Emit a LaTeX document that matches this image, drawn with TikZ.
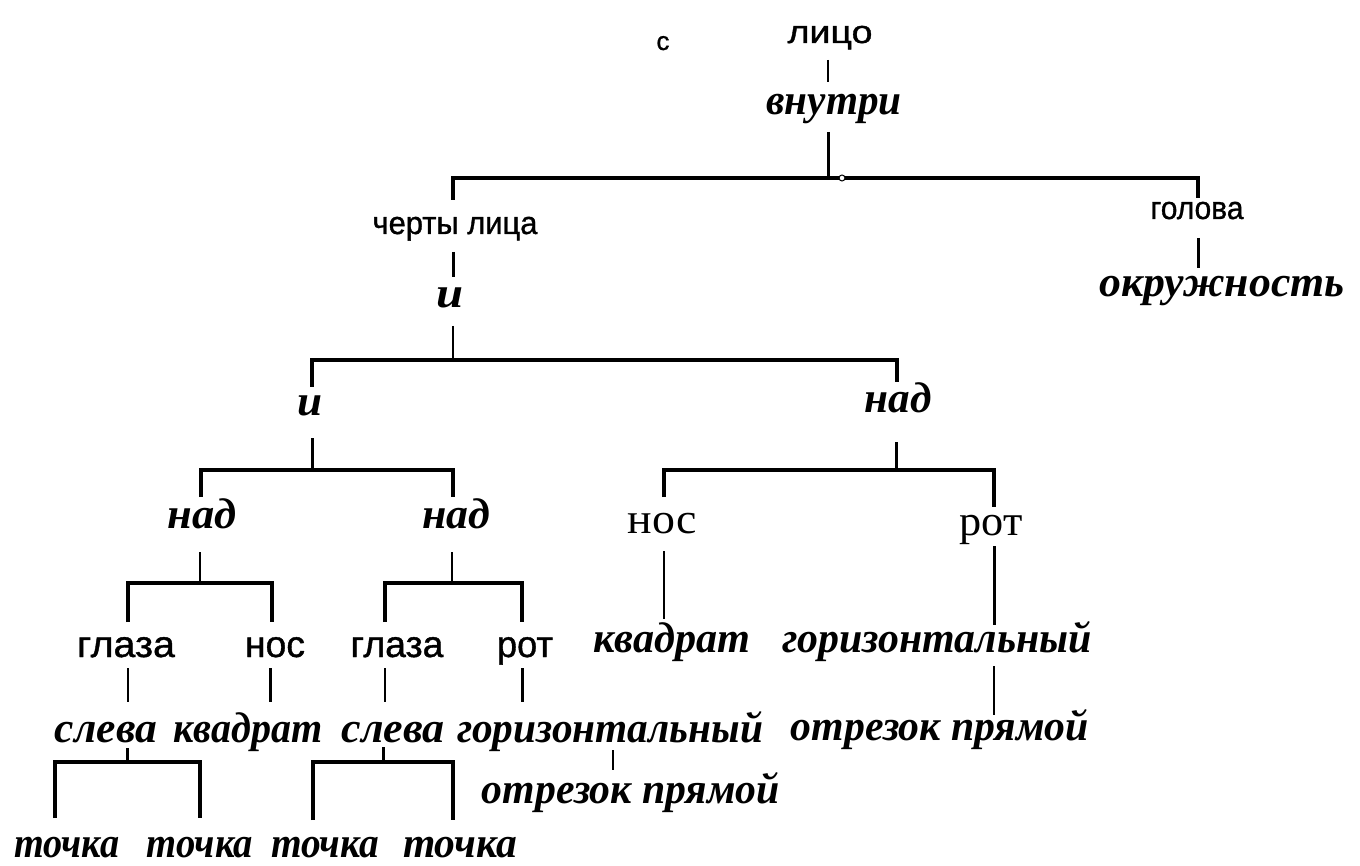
\documentclass[tikz,border=0pt]{standalone}
\usepackage{fontspec}
\usepackage{graphicx}
\newfontfamily\upf{Liberation Sans}[FakeBold=1]
\newfontfamily\serf{Liberation Serif}
\newfontfamily\itf{Liberation Serif}
\newcommand\fitw[2]{\resizebox{#1pt}{\height}{#2}}
\tikzset{
  lab/.style={inner sep=0pt, anchor=base},
  ut/.style={lab, font=\upf\fontsize{32}{35}\selectfont},
  ub/.style={lab, font=\upf\fontsize{37}{40}\selectfont},
  us/.style={lab, font=\serf\fontsize{43}{48}\selectfont},
  itl/.style={lab, font=\itf\bfseries\itshape\fontsize{43}{46}\selectfont},
  barline/.style={line width=4pt, line join=miter},
  stemline/.style={line width=3pt},
  thinline/.style={line width=2pt},
}
\begin{document}
\begin{tikzpicture}[x=1pt,y=-1pt]
\useasboundingbox[fill=white] (0,0) rectangle (1360,866);
% ---------- texts ----------
\node[lab, font=\upf\fontsize{26}{28}\selectfont] (c) at (663,50) {с};
\node[ut] (litso) at (830,43) {\fitw{85}{лицо}};
\node[itl] (vnutri) at (834,115) {\fitw{135}{внутри}};
\node[ut] (cherty) at (455,234) {\fitw{165}{черты лица}};
\node[ut] (golova) at (1197,219) {\fitw{93}{голова}};
\node[itl] (okr) at (1222,297) {\fitw{245}{окружность}};
\node[itl] (i1) at (450,308) {\fitw{27}{и}};
\node[itl] (i2) at (310,416) {\fitw{25}{и}};
\node[itl] (nad1) at (898,412) {\fitw{67}{над}};
\node[itl] (nad2) at (202,528) {\fitw{69}{над}};
\node[itl] (nad3) at (456,528) {\fitw{68}{над}};
\node[us] (nosm) at (662,533) {\fitw{69}{нос}};
\node[us] (rotm) at (991,535) {\fitw{63}{рот}};
\node[ub] (glaza1) at (126,657) {\fitw{98}{глаза}};
\node[ub] (nosl) at (275,657) {\fitw{60}{нос}};
\node[ub] (glaza2) at (397,657) {\fitw{93}{глаза}};
\node[ub] (rotl) at (525,657) {\fitw{56}{рот}};
\node[itl] (kvm) at (672,652) {\fitw{157}{квадрат}};
\node[itl] (gorm) at (937,652) {\fitw{310}{горизонтальный}};
\node[itl] (sl1) at (106,742) {\fitw{102}{слева}};
\node[itl] (kvl) at (248,742) {\fitw{149}{квадрат}};
\node[itl] (sl2) at (393,742) {\fitw{103}{слева}};
\node[itl] (gorl) at (610,742) {\fitw{306}{горизонтальный}};
\node[itl] (otrm) at (940,740) {\fitw{298}{отрезок прямой}};
\node[itl] (otrl) at (631,803) {\fitw{298}{отрезок прямой}};
\node[itl] (t1) at (67,857) {\fitw{105}{точка}};
\node[itl] (t2) at (200,857) {\fitw{106}{точка}};
\node[itl] (t3) at (325,857) {\fitw{108}{точка}};
\node[itl] (t4) at (460,857) {\fitw{114}{точка}};
% ---------- connector points ----------
\coordinate (a1) at (828,60);   \coordinate (a2) at (828,82);
\coordinate (s1) at (828,132);  \coordinate (j1) at (828,178);
\coordinate (j1l) at (453,178); \coordinate (j1r) at (1198,178);
\coordinate (d1l) at (453,200); \coordinate (d1r) at (1198,198);
\coordinate (g1) at (1198,238); \coordinate (g2) at (1198,268);
\coordinate (c1) at (453,252);  \coordinate (c2) at (453,277);
\coordinate (s2) at (453,326);  \coordinate (j2) at (453,360);
\coordinate (j2l) at (312,360); \coordinate (j2r) at (897,360);
\coordinate (d2l) at (312,387); \coordinate (d2r) at (897,382);
\coordinate (s3) at (312,438);  \coordinate (j3) at (312,470);
\coordinate (j3l) at (201,470); \coordinate (j3r) at (453,470);
\coordinate (d3l) at (201,497); \coordinate (d3r) at (453,497);
\coordinate (s4) at (896,442);  \coordinate (j4) at (896,470);
\coordinate (j4l) at (664,470); \coordinate (j4r) at (994,470);
\coordinate (d4l) at (664,497); \coordinate (d4r) at (994,507);
\coordinate (s5) at (200,552);  \coordinate (j5) at (200,583);
\coordinate (j5l) at (128,583); \coordinate (j5r) at (272,583);
\coordinate (d5l) at (128,622); \coordinate (d5r) at (272,622);
\coordinate (s6) at (452,552);  \coordinate (j6) at (452,583);
\coordinate (j6l) at (385,583); \coordinate (j6r) at (522,583);
\coordinate (d6l) at (385,622); \coordinate (d6r) at (522,622);
\coordinate (n1) at (664,551);  \coordinate (n2) at (664,619);
\coordinate (r1) at (994,546);  \coordinate (r2) at (994,625);
\coordinate (r3) at (994,666);  \coordinate (r4) at (994,715);
\coordinate (e1) at (128,668);  \coordinate (e2) at (128,702);
\coordinate (f1) at (270,668);  \coordinate (f2) at (270,702);
\coordinate (h1) at (385,668);  \coordinate (h2) at (385,702);
\coordinate (k1) at (522,668);  \coordinate (k2) at (522,702);
\coordinate (s7) at (127,748);  \coordinate (j7) at (127,762);
\coordinate (j7l) at (55,762);  \coordinate (j7r) at (200,762);
\coordinate (d7l) at (55,818);  \coordinate (d7r) at (200,818);
\coordinate (s8) at (383,747);  \coordinate (j8) at (383,762);
\coordinate (j8l) at (313,762); \coordinate (j8r) at (453,762);
\coordinate (d8l) at (313,820); \coordinate (d8r) at (453,820);
\coordinate (m1) at (613,750);  \coordinate (m2) at (613,770);
% ---------- connectors ----------
\draw[thinline] (a1) -- (a2);
\draw[stemline] (s1) -- (j1);
\draw[barline] (d1l) -- (j1l) -- (j1r) -- (d1r);
\node[circle, draw, fill=white, line width=1pt, inner sep=0pt, minimum size=6pt] (dot) at (842,178) {};
\draw[stemline] (g1) -- (g2);
\draw[stemline] (c1) -- (c2);
\draw[thinline] (s2) -- (j2);
\draw[barline] (d2l) -- (j2l) -- (j2r) -- (d2r);
\draw[stemline] (s3) -- (j3);
\draw[barline] (d3l) -- (j3l) -- (j3r) -- (d3r);
\draw[stemline] (s4) -- (j4);
\draw[barline] (d4l) -- (j4l) -- (j4r) -- (d4r);
\draw[thinline] (s5) -- (j5);
\draw[barline] (d5l) -- (j5l) -- (j5r) -- (d5r);
\draw[thinline] (s6) -- (j6);
\draw[barline] (d6l) -- (j6l) -- (j6r) -- (d6r);
\draw[thinline] (n1) -- (n2);
\draw[stemline] (r1) -- (r2);
\draw[thinline] (r3) -- (r4);
\draw[thinline] (e1) -- (e2);
\draw[stemline] (f1) -- (f2);
\draw[thinline] (h1) -- (h2);
\draw[stemline] (k1) -- (k2);
\draw[stemline] (s7) -- (j7);
\draw[barline] (d7l) -- (j7l) -- (j7r) -- (d7r);
\draw[stemline] (s8) -- (j8);
\draw[barline] (d8l) -- (j8l) -- (j8r) -- (d8r);
\draw[thinline] (m1) -- (m2);
\end{tikzpicture}
\end{document}
